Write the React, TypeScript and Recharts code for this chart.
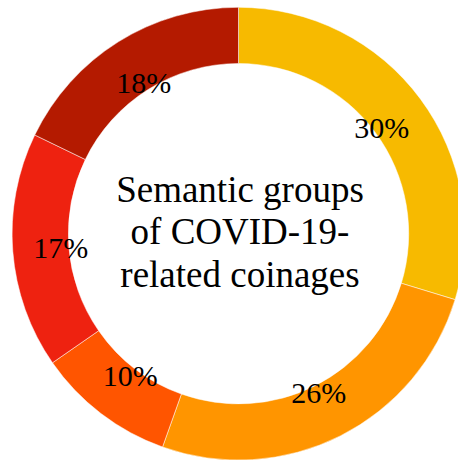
import React from 'react';
import { PieChart, Pie, Cell } from 'recharts';

// Share of each semantic group (percent labels as printed)
const groups = ['Group A', 'Group B', 'Group C', 'Group D', 'Group E'];
const shares = [30, 26, 10, 17, 18];
const colors = ['#F7BA00', '#FF9500', '#FF5500', '#EE2210', '#B41A00'];
const centerLines = ['Semantic groups', 'of COVID-19-', 'related coinages'];

const data = groups.map((name, i) => ({ name, value: shares[i] }));

const RADIAN = Math.PI / 180;
const FONT = '"Liberation Serif", "Times New Roman", serif';

const renderLabel = (props: any) => {
  const { cx, cy, midAngle, innerRadius, index } = props;
  const r = innerRadius + 8;
  const x = cx + r * Math.cos(-midAngle * RADIAN);
  const y = cy + r * Math.sin(-midAngle * RADIAN);
  return (
    <text
      x={x}
      y={y + 10.5}
      textAnchor="middle"
      fill="#000"
      fontFamily={FONT}
      fontSize={30}
    >
      {`${shares[index]}%`}
    </text>
  );
};

export default function App() {
  const cx = 238.5;
  const cy = 233.7;
  return (
    <div style={{ position: 'absolute', left: 0, top: 0, width: 458, height: 461, background: '#fff' }}>
      <PieChart width={458} height={461} margin={{ top: 0, right: 0, bottom: 0, left: 0 }}>
        <Pie
          data={data}
          dataKey="value"
          cx={cx}
          cy={cy}
          innerRadius={170.2}
          outerRadius={226.4}
          startAngle={90}
          endAngle={-270}
          stroke="#fff"
          strokeWidth={0.5}
          label={renderLabel}
          labelLine={false}
          isAnimationActive={false}
        >
          {data.map((d, i) => (
            <Cell key={d.name} fill={colors[i]} />
          ))}
        </Pie>
        <text textAnchor="middle" fontFamily={FONT} fontSize={37} fill="#000">
          {centerLines.map((line, i) => (
            <tspan key={line} x={240} y={201.7 + i * 42.5}>
              {line}
            </tspan>
          ))}
        </text>
      </PieChart>
    </div>
  );
}
